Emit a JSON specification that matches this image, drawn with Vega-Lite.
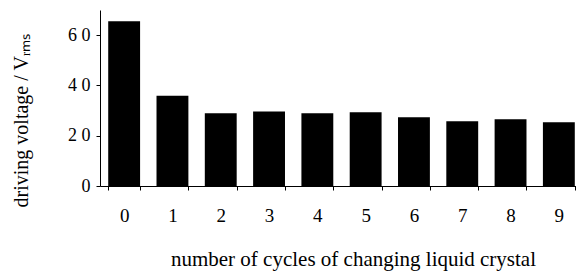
{
  "$schema": "https://vega.github.io/schema/vega-lite/v6.json",
  "autosize": "none",
  "width": 476,
  "height": 176,
  "padding": {"left": 100, "top": 10, "right": 0, "bottom": 85},
  "background": "white",
  "config": {"view": {"stroke": null}, "font": "Liberation Serif"},
  "data": {"values": [
    {"cycle": "0", "voltage": 65.5},
    {"cycle": "1", "voltage": 35.9},
    {"cycle": "2", "voltage": 28.9},
    {"cycle": "3", "voltage": 29.6},
    {"cycle": "4", "voltage": 28.9},
    {"cycle": "5", "voltage": 29.3},
    {"cycle": "6", "voltage": 27.3},
    {"cycle": "7", "voltage": 25.8},
    {"cycle": "8", "voltage": 26.5},
    {"cycle": "9", "voltage": 25.4}
  ]},
  "mark": {"type": "bar", "color": "black"},
  "encoding": {
    "x": {
      "field": "cycle", "type": "ordinal",
      "scale": {"paddingInner": 0.34, "paddingOuter": 0.17, "range": [0, 483]},
      "axis": {
        "title": "number of cycles of changing liquid crystal",
        "titleFont": "Liberation Serif", "titleFontSize": 21, "titleFontWeight": "normal", "titleColor": "black",
        "titleX": 253, "titleY": 79, "titleBaseline": "alphabetic", "titleAlign": "center",
        "labelAngle": 0, "labelFont": "Liberation Serif", "labelFontSize": 19, "labelColor": "black", "labelPadding": 16,
        "tickBand": "extent", "tickSize": 4, "tickColor": "black", "domainColor": "black"
      }
    },
    "y": {
      "field": "voltage", "type": "quantitative",
      "scale": {"domain": [0, 70], "nice": false},
      "axis": {
        "title": "driving voltage / Vᵣₘₛ",
        "titleFont": "Liberation Serif", "titleFontSize": 20, "titleFontWeight": "normal", "titleColor": "black",
        "titleX": -73, "titleY": 110, "titleBaseline": "alphabetic", "titleAlign": "center",
        "values": [0, 20, 40, 60],
        "labelExpr": "datum.value == 0 ? '0' : join(split(datum.label, ''), ' ')",
        "labelFont": "Liberation Serif", "labelFontSize": 18, "labelColor": "black", "labelPadding": 6,
        "tickSize": 4, "tickColor": "black", "domainColor": "black", "grid": false
      }
    }
  }
}
